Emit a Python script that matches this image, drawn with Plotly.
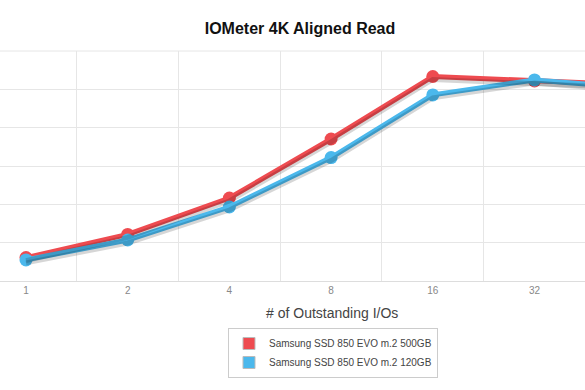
import plotly.graph_objects as go

# ---- data ----
io_depths = ["1", "2", "4", "8", "16", "32", "64"]
evo_500 = [12200, 24300, 43300, 74100, 106700, 104400, 102300]
evo_120 = [11000, 21400, 38600, 64400, 97100, 104900, 100700]
series_names = ["Samsung SSD 850 EVO m.2 500GB", "Samsung SSD 850 EVO m.2 120GB"]
colors = ["#EE4B50", "#4BB8EC"]

x_idx = list(range(len(io_depths)))
Y_MAX = 120000
PLOT_H = 230
shadow_shift = 3 * Y_MAX / PLOT_H

fig = go.Figure()

# drop shadows (drawn on an offset overlay axis)
for vals in [evo_500, evo_120]:
    fig.add_trace(go.Scatter(
        x=x_idx, y=vals, mode="lines", yaxis="y2",
        line=dict(color="rgba(0,0,0,0.16)", width=5),
        hoverinfo="skip", showlegend=False))

for vals, name, col in [(evo_500, series_names[0], colors[0]), (evo_120, series_names[1], colors[1])]:
    fig.add_trace(go.Scatter(
        x=x_idx, y=vals, mode="lines+markers", name=name,
        line=dict(color=col, width=5),
        marker=dict(color=col, size=13),
        showlegend=False, cliponaxis=True))

# legend swatches
for name, col in zip(series_names, colors):
    fig.add_trace(go.Scatter(
        x=[None], y=[None], mode="markers", name=name,
        marker=dict(symbol="square", size=12, color=col,
                    line=dict(color="#bbbbbb", width=1))))

fig.update_layout(
    width=585, height=390,
    margin=dict(l=0, r=0, t=51, b=109, pad=0),
    paper_bgcolor="white", plot_bgcolor="white",
    font=dict(family="Liberation Sans, Arial, sans-serif", color="#444"),
    title=dict(text="<b>IOMeter 4K Aligned Read</b>", x=300/585, xanchor="center",
               y=1 - 28/390, yanchor="middle", font=dict(size=16, color="#111")),
    xaxis=dict(
        range=[-26/101.7, 559/101.7],
        tickmode="array", tickvals=x_idx, ticktext=io_depths,
        showgrid=False, zeroline=False, showline=True, linecolor="#dddddd", linewidth=1,
        ticks="", tickfont=dict(size=10, color="#888"),
        minor=dict(tickmode="array", tickvals=[i + 0.5 for i in x_idx],
                   showgrid=True, gridcolor="#e6e6e6", gridwidth=1, ticks=""),
    ),
    yaxis=dict(
        range=[0, Y_MAX], tickmode="linear", tick0=0, dtick=20000, showticklabels=False,
        showgrid=True, gridcolor="#e6e6e6", gridwidth=1, zeroline=False,
    ),
    yaxis2=dict(
        range=[shadow_shift, Y_MAX + shadow_shift], overlaying="y",
        showticklabels=False, showgrid=False, zeroline=False, visible=False,
    ),
    legend=dict(
        x=228/585, y=(281 - 328) / 230, xanchor="left", yanchor="top",
        bordercolor="#cccccc", borderwidth=1, bgcolor="white",
        font=dict(size=10, color="#444"), tracegroupgap=0,
        itemwidth=30,
    ),
    showlegend=True,
)

# top border gridline of the plot area
fig.add_shape(type="line", xref="paper", yref="paper", x0=0, x1=1, y0=1, y1=1,
              line=dict(color="#e6e6e6", width=1), layer="below")

fig.add_annotation(
    text="# of Outstanding I/Os", xref="paper", yref="paper",
    x=332/585, y=(281 - 313) / 230, xanchor="center", yanchor="middle",
    showarrow=False, font=dict(size=14, color="#444"))

fig.write_html("out.html")
